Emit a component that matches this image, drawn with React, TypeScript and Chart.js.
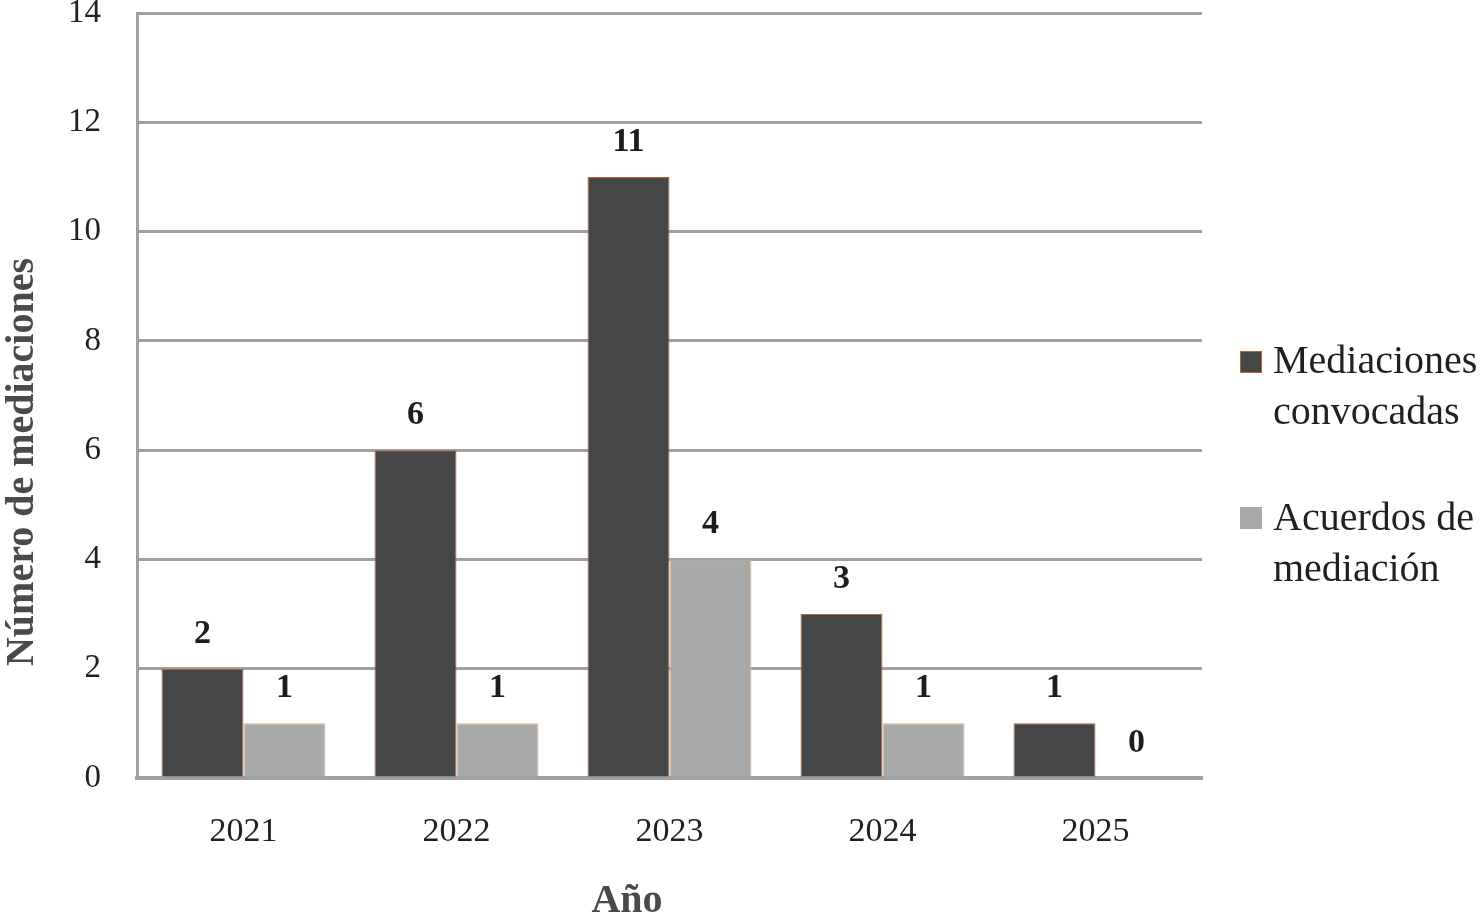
import { useEffect, useRef } from 'react';
import { Chart, registerables } from 'chart.js';

Chart.register(...registerables);

const years = ['2021', '2022', '2023', '2024', '2025'];
const convocadas = [2, 6, 11, 3, 1];
const acuerdos = [1, 1, 4, 1, 0];
const legendLines = [
  ['Mediaciones', 'convocadas'],
  ['Acuerdos de', 'mediación'],
];
const yTitle = 'Número de mediaciones';
const xTitle = 'Año';

const SERIF = '"Liberation Serif", "Times New Roman", serif';
const GRID = '#a0a0a2';
const DARK = '#454648';
const LIGHT = '#a8a9a9';

const extrasPlugin = {
  id: 'extras',
  afterDatasetsDraw(chart: any) {
    const ctx = chart.ctx;
    ctx.save();

    // value labels above the bars
    ctx.font = `bold 34px ${SERIF}`;
    ctx.fillStyle = '#1e1c1d';
    ctx.textAlign = 'center';
    ctx.textBaseline = 'alphabetic';
    chart.data.datasets.forEach((ds: any, i: number) => {
      chart.getDatasetMeta(i).data.forEach((bar: any, j: number) => {
        ctx.fillText(String(ds.data[j]), bar.x, bar.y - 26);
      });
    });

    // axis titles
    ctx.fillStyle = '#4a4a4a';
    ctx.font = `bold 40px ${SERIF}`;
    ctx.fillText(xTitle, 627, 912);
    ctx.save();
    ctx.translate(33, 462);
    ctx.rotate(-Math.PI / 2);
    ctx.fillText(yTitle, 0, 0);
    ctx.restore();

    // legend
    const tops = [351, 507];
    const baselines = [373, 530];
    chart.data.datasets.forEach((ds: any, i: number) => {
      ctx.fillStyle = ds.backgroundColor;
      ctx.fillRect(1240, tops[i], 22, 22);
      if (i === 0) {
        ctx.strokeStyle = ds.borderColor;
        ctx.lineWidth = 1;
        ctx.strokeRect(1240.5, tops[i] + 0.5, 21, 21);
      }
      ctx.fillStyle = '#231f20';
      ctx.font = `40px ${SERIF}`;
      ctx.textAlign = 'left';
      legendLines[i].forEach((line, k) => {
        ctx.fillText(line, 1273, baselines[i] + k * 51);
      });
      ctx.textAlign = 'center';
    });

    ctx.restore();
  },
};

export default function App() {
  const canvasRef = useRef<HTMLCanvasElement>(null);
  const chartInstance = useRef<Chart | null>(null);

  useEffect(() => {
    document.body.style.margin = '0';
    if (!canvasRef.current) return;
    const ctx = canvasRef.current.getContext('2d');
    if (!ctx) return;

    chartInstance.current = new Chart(ctx, {
      type: 'bar',
      data: {
        labels: years,
        datasets: [
          {
            label: legendLines[0].join(' '),
            data: convocadas,
            backgroundColor: DARK,
            borderColor: '#c0622b',
            borderWidth: 1,
            categoryPercentage: 0.77,
            barPercentage: 1.0,
          },
          {
            label: legendLines[1].join(' '),
            data: acuerdos,
            backgroundColor: LIGHT,
            borderColor: '#f2b48a',
            borderWidth: 1,
            categoryPercentage: 0.77,
            barPercentage: 1.0,
          },
        ],
      },
      options: {
        responsive: true,
        maintainAspectRatio: false,
        animation: false,
        layout: { padding: { top: 13, right: 280, left: 0, bottom: 0 } },
        plugins: {
          legend: { display: false },
          tooltip: { enabled: false },
        },
        scales: {
          x: {
            grid: { display: false, drawTicks: false },
            border: { display: true, color: GRID, width: 4 },
            ticks: {
              color: '#231f20',
              font: { family: SERIF, size: 34 },
              padding: 34,
            },
            afterFit: (scale: any) => {
              scale.height = 136;
              scale.paddingLeft = 0;
              scale.paddingRight = 0;
            },
          },
          y: {
            min: 0,
            max: 14,
            grid: { color: GRID, lineWidth: 3, drawTicks: false },
            border: { display: true, color: GRID, width: 3 },
            ticks: {
              stepSize: 2,
              color: '#231f20',
              font: { family: SERIF, size: 33 },
              padding: 36,
            },
            afterFit: (scale: any) => {
              scale.width = 137;
              scale.paddingTop = 0;
              scale.paddingBottom = 0;
            },
          },
        },
      },
      plugins: [extrasPlugin],
    });

    return () => {
      if (chartInstance.current) {
        chartInstance.current.destroy();
        chartInstance.current = null;
      }
    };
  }, []);

  return (
    <div style={{ position: 'relative', width: '1482px', height: '914px', background: 'white' }}>
      <canvas ref={canvasRef} />
    </div>
  );
}
